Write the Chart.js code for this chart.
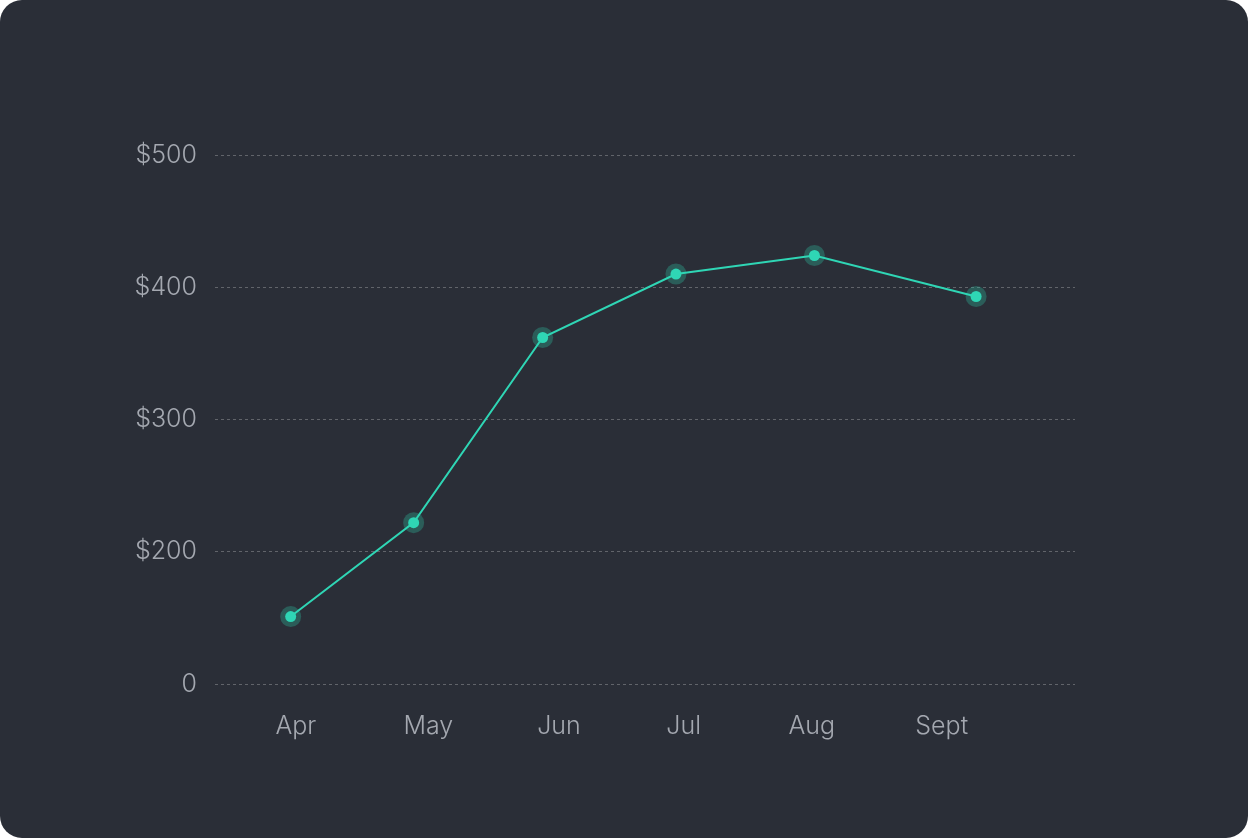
<!DOCTYPE html>
<html>
<head>
<meta charset="utf-8">
<script src="https://cdn.jsdelivr.net/npm/chart.js@4.4.1/dist/chart.umd.min.js"></script>
<style>
  html, body { margin: 0; padding: 0; background: #ffffff; }
  .card {
    width: 1248px; height: 838px;
    background: #2a2e37;
    border-radius: 22px;
    overflow: hidden;
  }
  canvas { display: block; }
</style>
</head>
<body>
<div class="card">
  <canvas id="chart" width="1248" height="838"></canvas>
</div>
<script>
// month labels and where they sit along the x axis (0..100 across the plot)
const months = ['Apr', 'May', 'Jun', 'Jul', 'Aug', 'Sept'];
const monthPos = [9.4, 24.8, 40.0, 54.5, 69.4, 84.5];

// points are not centred under the labels in the picture
const pointPos = [8.8, 23.1, 38.1, 53.6, 69.7, 88.5];
const revenue = [151, 222, 362, 410, 424, 393];

// the axis shows 0, $200 .. $500 evenly spaced, the bottom line is labelled 0
const yTicks = [100, 200, 300, 400, 500];
const yLabels = ['0', '$200', '$300', '$400', '$500'];

const points = pointPos.map((x, i) => ({ x: x, y: revenue[i] }));

const teal = '#2fd6b5';
const tickColor = '#a4a8b0';
const font = { family: 'Inter', size: 25, weight: '300' };

new Chart(document.getElementById('chart'), {
    type: 'line',
    data: {
        datasets: [{
            data: points,
            borderColor: teal,
            borderWidth: 2,
            backgroundColor: teal,
            pointRadius: 5.5,
            pointBorderWidth: 0,
            tension: 0,
            order: 0
        }, {
            // soft halo behind each dot
            data: points,
            showLine: false,
            pointRadius: 10.5,
            pointBorderWidth: 0,
            pointBackgroundColor: 'rgba(47, 214, 181, 0.28)',
            order: 1
        }]
    },
    options: {
        responsive: false,
        animation: false,
        layout: {
            padding: { left: 0, right: 173, top: 155, bottom: 0 }
        },
        plugins: {
            legend: { display: false },
            tooltip: { enabled: false }
        },
        scales: {
            x: {
                type: 'linear',
                min: 0,
                max: 100,
                afterBuildTicks: (scale) => {
                    scale.ticks = monthPos.map(v => ({ value: v }));
                },
                afterFit: (scale) => { scale.height = 154; },
                grid: { display: false },
                border: { display: false },
                ticks: {
                    color: tickColor,
                    font: font,
                    padding: 19,
                    autoSkip: false,
                    maxRotation: 0,
                    callback: (value) => months[monthPos.indexOf(value)]
                }
            },
            y: {
                type: 'linear',
                min: 100,
                max: 500,
                afterBuildTicks: (scale) => {
                    scale.ticks = yTicks.map(v => ({ value: v }));
                },
                afterFit: (scale) => { scale.width = 215; },
                border: { display: false, dash: [3, 3] },
                grid: {
                    color: 'rgba(255, 255, 255, 0.26)',
                    lineWidth: 1,
                    drawTicks: false
                },
                ticks: {
                    color: tickColor,
                    font: font,
                    padding: 18,
                    callback: (value) => yLabels[yTicks.indexOf(value)]
                }
            }
        }
    }
});
</script>
</body>
</html>
